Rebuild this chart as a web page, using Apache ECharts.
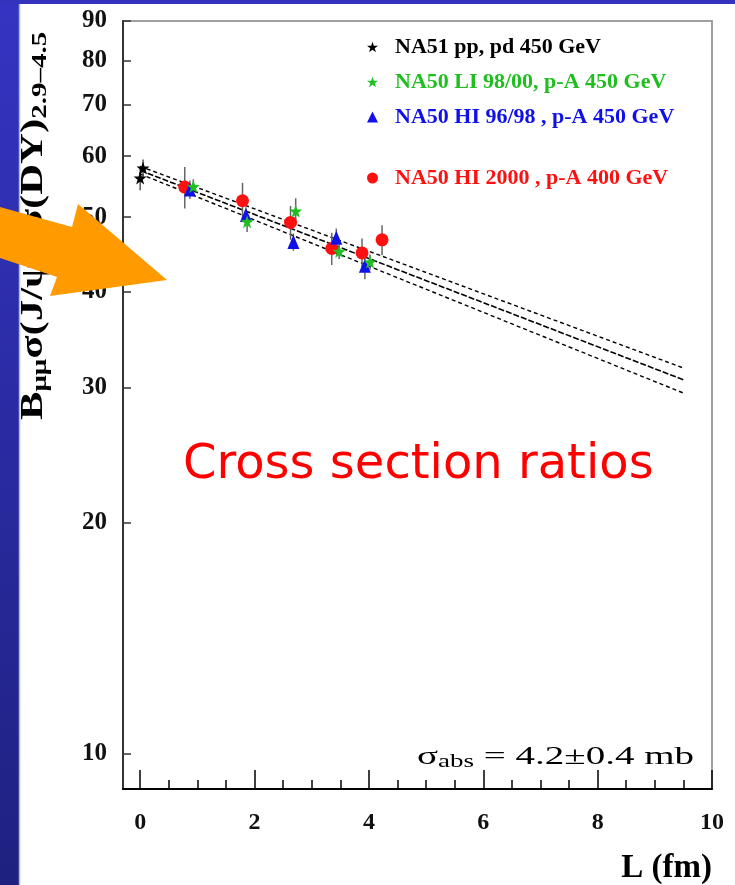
<!DOCTYPE html>
<html><head><meta charset="utf-8">
<script src="https://cdn.jsdelivr.net/npm/echarts@6/dist/echarts.min.js"></script>
<style>html,body{margin:0;padding:0;background:#fff}#c{width:735px;height:885px}</style>
</head><body><div id="c"></div>
<script>
// ---- data ----
const xMajorTicks = [0, 2, 4, 6, 8, 10];
const xMinorTicks = [0.5, 1, 1.5, 2.5, 3, 3.5, 4.5, 5, 5.5, 6.5, 7, 7.5, 8.5, 9, 9.5];
const yTicks = [10, 20, 30, 40, 50, 60, 70, 80, 90];

const na51L = [0.05, 0.0];
const na51V = [57.9, 56.2];
const na51E = [1.5, 2.0];

const hi2000L = [0.78, 1.79, 2.63, 3.35, 3.88, 4.23];
const hi2000V = [54.7, 52.5, 49.2, 45.5, 44.9, 46.7];
const hi2000E = [3.4, 2.9, 2.5, 2.2, 2.0, 2.1];

const hi9698L = [0.87, 1.85, 2.68, 3.43, 3.93];
const hi9698V = [54.3, 50.3, 46.4, 47.0, 43.2];
const hi9698E = [1.5, 1.2, 1.2, 1.3, 1.7];

const liL = [0.93, 1.87, 2.72, 3.48, 4.02];
const liV = [54.8, 49.3, 50.9, 45.1, 43.7];
const liE = [1.2, 1.5, 2.0, 1.0, 1.0];

const fitL = [0, 9.5];
const fitCentral = [57.5, 30.7];
const fitUpper = [58.2, 31.8];
const fitLower = [56.9, 29.5];

const names = ['NA51 pp, pd 450 GeV', 'NA50 LI 98/00, p-A 450 GeV', 'NA50 HI 96/98 , p-A 450 GeV', 'NA50 HI 2000 , p-A 400 GeV'];
const colors = {black: '#000000', green: '#1fbf1f', blue: '#1010e8', red: '#ff1010'};

// ---- helpers ----
const star = 'path://M0,-10 L2.35,-3.24 L9.51,-3.09 L3.8,1.24 L5.88,8.09 L0,4 L-5.88,8.09 L-3.8,1.24 L-9.51,-3.09 L-2.35,-3.24 Z';
const zip = (a, b) => a.map((x, i) => [x, b[i]]);
function errSeries(L, V, E, color) {
  return {
    type: 'custom', silent: true, z: 3,
    data: L.map((x, i) => [x, V[i] - E[i], V[i] + E[i]]),
    encode: {x: 0, y: [1, 2]},
    renderItem: (p, api) => {
      const a = api.coord([api.value(0), api.value(1)]);
      const b = api.coord([api.value(0), api.value(2)]);
      return {type: 'line', shape: {x1: a[0], y1: a[1], x2: b[0], y2: b[1]}, style: {stroke: color, lineWidth: 1.5}};
    }
  };
}
function fitSeries(V, dash, w) {
  return {type: 'line', data: zip(fitL, V), symbol: 'none', silent: true, z: 2,
    lineStyle: {color: '#000', width: w, type: dash}};
}
const serif = 'Liberation Serif';

const chart = echarts.init(document.getElementById('c'), null, {renderer: 'canvas'});
chart.setOption({
  backgroundColor: '#ffffff',
  animation: false,
  grid: {left: 123, top: 21, right: 23, bottom: 96, show: true, borderColor: '#a0a0a0', borderWidth: 2, backgroundColor: 'transparent'},
  xAxis: [{
    type: 'value', min: -0.3, max: 10,
    axisLine: {show: true, onZero: false, lineStyle: {color: '#000', width: 2}},
    axisTick: {show: true, inside: true, length: 19, lineStyle: {color: '#000', width: 1.5}, customValues: xMajorTicks},
    axisLabel: {customValues: xMajorTicks, margin: 22, color: '#111', fontFamily: serif, fontWeight: 'bold', fontSize: 24},
    splitLine: {show: false}
  }, {
    type: 'value', min: -0.3, max: 10, position: 'bottom',
    axisLine: {show: false, onZero: false},
    axisTick: {show: true, inside: true, length: 9, lineStyle: {color: '#000', width: 1.5}, customValues: xMinorTicks},
    axisLabel: {show: false},
    splitLine: {show: false}
  }],
  yAxis: {
    type: 'log', logBase: 10, min: 9, max: 90,
    axisLine: {show: true, onZero: false, lineStyle: {color: '#333', width: 2}},
    axisTick: {show: true, inside: true, length: 8, lineStyle: {color: '#333', width: 1.5}, customValues: yTicks},
    axisLabel: {customValues: yTicks, margin: 16, color: '#111', fontFamily: serif, fontWeight: 'bold', fontSize: 25},
    splitLine: {show: false}, minorTick: {show: false}
  },
  legend: [{
    orient: 'vertical', left: 362, top: 31, itemWidth: 11, itemHeight: 11, itemGap: 13, selectedMode: false,
    textStyle: {fontFamily: serif, fontWeight: 'bold', fontSize: 22, lineHeight: 22, padding: [0, 0, 0, 12]},
    data: [
      {name: names[0], icon: star, textStyle: {color: colors.black}},
      {name: names[1], icon: star, textStyle: {color: colors.green}},
      {name: names[2], icon: 'triangle', textStyle: {color: colors.blue}}
    ]
  }, {
    orient: 'vertical', left: 362, top: 162, itemWidth: 11, itemHeight: 11, selectedMode: false,
    textStyle: {fontFamily: serif, fontWeight: 'bold', fontSize: 22, lineHeight: 22, padding: [0, 0, 0, 12]},
    data: [{name: names[3], icon: 'circle', textStyle: {color: colors.red}}]
  }],
  series: [
    fitSeries(fitUpper, [4, 3], 1.4),
    fitSeries(fitCentral, [6, 2], 1.6),
    fitSeries(fitLower, [4, 3], 1.4),
    errSeries(na51L, na51V, na51E, '#555'),
    errSeries(hi2000L, hi2000V, hi2000E, '#666'),
    errSeries(hi9698L, hi9698V, hi9698E, '#666'),
    errSeries(liL, liV, liE, '#666'),
    {name: names[0], type: 'scatter', z: 5, symbol: star, symbolSize: 13, data: zip(na51L, na51V), itemStyle: {color: colors.black, opacity: 1}},
    {name: names[3], type: 'scatter', z: 5, symbol: 'circle', symbolSize: 13, data: zip(hi2000L, hi2000V), itemStyle: {color: colors.red, opacity: 1}},
    {name: names[2], type: 'scatter', z: 6, symbol: 'triangle', symbolSize: [12, 14], data: zip(hi9698L, hi9698V), itemStyle: {color: colors.blue, opacity: 1}},
    {name: names[1], type: 'scatter', z: 7, symbol: star, symbolSize: 13, data: zip(liL, liV), itemStyle: {color: colors.green, opacity: 1}}
  ],
  graphic: [
    {type: 'rect', z: -10, shape: {x: 0, y: 0, width: 19, height: 885},
      style: {fill: new echarts.graphic.LinearGradient(0, 0, 0, 1, [{offset: 0, color: '#3434c2'}, {offset: 1, color: '#1f2180'}])}},
    {type: 'rect', z: -10, shape: {x: 0, y: 0, width: 735, height: 4}, style: {fill: '#3232bc'}},
    {type: 'line', z: -9, shape: {x1: 19.5, y1: 4, x2: 19.5, y2: 885}, style: {stroke: '#a9b9ea', lineWidth: 1.5}},
    {type: 'text', x: 34, y: 226, rotation: Math.PI / 2, scaleX: 1.38, z: 50,
      style: {text: '{m|B}{s|μμ}{m|σ(J/ψ)/σ(DY)}{s|2.9–4.5}', align: 'center', verticalAlign: 'middle',
        rich: {
          m: {fontFamily: serif, fontWeight: 'bold', fontSize: 31, lineHeight: 34, fill: '#000'},
          s: {fontFamily: serif, fontWeight: 'bold', fontSize: 21, lineHeight: 12, verticalAlign: 'bottom', fill: '#000'}
        }}},
    {type: 'text', x: 417, y: 757, scaleX: 1.5, z: 50,
      style: {text: '{g|σ}{s|abs}{g| = 4.2±0.4 mb}', align: 'left', verticalAlign: 'middle',
        rich: {
          g: {fontFamily: serif, fontSize: 26, lineHeight: 28, fill: '#000'},
          s: {fontFamily: serif, fontSize: 18, lineHeight: 10, verticalAlign: 'bottom', fill: '#000'}
        }}},
    {type: 'text', x: 712, y: 868, z: 50,
      style: {text: 'L (fm)', align: 'right', verticalAlign: 'middle', fontFamily: serif, fontWeight: 'bold', fontSize: 33, fill: '#000'}},
    {type: 'text', x: 183, y: 466, z: 50,
      style: {text: 'Cross section ratios', align: 'left', verticalAlign: 'middle', fontFamily: 'DejaVu Sans', fontSize: 48, fill: '#ff0000'}},
    {type: 'polygon', z: 100,
      shape: {points: [[0, 207], [72, 227], [78, 204], [167, 280], [50, 296], [57, 277], [0, 258]]},
      style: {fill: '#ff9a00'}}
  ]
});
</script>
</body></html>
